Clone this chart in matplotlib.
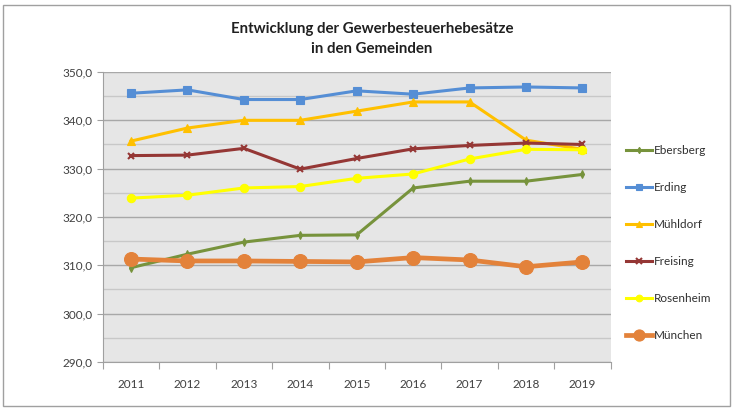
#!/usr/bin/env python3
"""Gewerbesteuerhebesätze der Gemeinden 2011-2019 als Liniendiagramm."""

from __future__ import annotations

import matplotlib

matplotlib.use("Agg")
import matplotlib.pyplot as plt  # noqa: E402
from matplotlib.patches import Rectangle  # noqa: E402
from matplotlib.ticker import FuncFormatter, MultipleLocator  # noqa: E402

years = ["2011", "2012", "2013", "2014", "2015", "2016", "2017", "2018", "2019"]

ebersberg = [309.5, 312.3, 314.8, 316.2, 316.3, 326.0, 327.4, 327.4, 328.8]
erding = [345.6, 346.3, 344.3, 344.3, 346.1, 345.4, 346.7, 346.9, 346.7]
muehldorf = [335.7, 338.4, 340.0, 340.0, 341.9, 343.8, 343.8, 335.9, 334.0]
freising = [332.7, 332.8, 334.2, 329.9, 332.1, 334.1, 334.8, 335.3, 335.0]
rosenheim = [323.9, 324.5, 326.0, 326.3, 328.0, 328.9, 332.0, 334.0, 333.9]
muenchen = [311.3, 310.9, 310.9, 310.8, 310.7, 311.6, 311.1, 309.7, 310.7]

series = [
    ("Ebersberg", ebersberg, "#77933C", "d", 4, 2.2),
    ("Erding", erding, "#558ED5", "s", 6, 2.2),
    ("Mühldorf", muehldorf, "#FFC000", "^", 6, 2.2),
    ("Freising", freising, "#953735", "x", 5, 2.2),
    ("Rosenheim", rosenheim, "#FFFF00", "o", 6, 2.2),
    ("München", muenchen, "#E3823A", "o", 10, 3.4),
]


def main() -> int:
    plt.rcParams["font.family"] = ["Lato", "DejaVu Sans"]
    fig = plt.figure(figsize=(7.34, 4.09), dpi=100)
    fig.patch.set_facecolor("white")
    fig.patches.append(Rectangle((0.004, 0.008), 0.991, 0.98, transform=fig.transFigure,
                                 fill=False, edgecolor="#a0a0a0", linewidth=1.0))

    ax = fig.add_axes([0.140, 0.115, 0.692, 0.709])
    ax.set_facecolor("#e6e6e6")
    x = list(range(len(years)))
    for name, vals, color, marker, ms, lw in series:
        ax.plot(x, vals, color=color, marker=marker, markersize=ms, linewidth=lw,
                markeredgewidth=1.5 if marker == "x" else 0.8, markeredgecolor=color, label=name)

    ax.set_xlim(-0.5, len(years) - 0.5)
    ax.set_ylim(290, 350)
    ax.yaxis.set_major_locator(MultipleLocator(10))
    ax.yaxis.set_minor_locator(MultipleLocator(5))
    ax.yaxis.set_major_formatter(FuncFormatter(lambda v, _: f"{v:.1f}".replace(".", ",")))
    ax.grid(True, axis="y", which="major", color="#a8a8a8", linewidth=1.0)
    ax.grid(True, axis="y", which="minor", color="#c8c8c8", linewidth=1.0)
    ax.set_axisbelow(True)

    ax.set_xticks([i - 0.5 for i in range(len(years) + 1)])
    ax.set_xticklabels([])
    ax.set_xticks(x, minor=True)
    ax.set_xticklabels(years, minor=True)
    ax.tick_params(axis="x", which="major", length=5, color="#a0a0a0")
    ax.tick_params(axis="x", which="minor", length=0, pad=12, labelsize=8.5, labelcolor="#404040")
    ax.tick_params(axis="y", which="major", length=4, color="#a0a0a0", labelsize=8.5, labelcolor="#404040")
    ax.tick_params(axis="y", which="minor", length=0)

    for side in ("top", "right"):
        ax.spines[side].set_visible(False)
    for side in ("left", "bottom"):
        ax.spines[side].set_color("#a0a0a0")

    fig.text(0.507, 0.905, "Entwicklung der Gewerbesteuerhebesätze\nin den Gemeinden",
             ha="center", va="center", fontsize=10.8, fontweight="bold", color="#202020",
             linespacing=1.6)

    ax.legend(loc="upper left", bbox_to_anchor=(1.01, 0.785), frameon=False, fontsize=8.5,
              handlelength=2.2, handletextpad=0.1, labelspacing=2.2, labelcolor="#303030",
              markerscale=0.8)

    fig.savefig("out.png", dpi=100)
    plt.close(fig)
    return 0


if __name__ == "__main__":
    raise SystemExit(main())
